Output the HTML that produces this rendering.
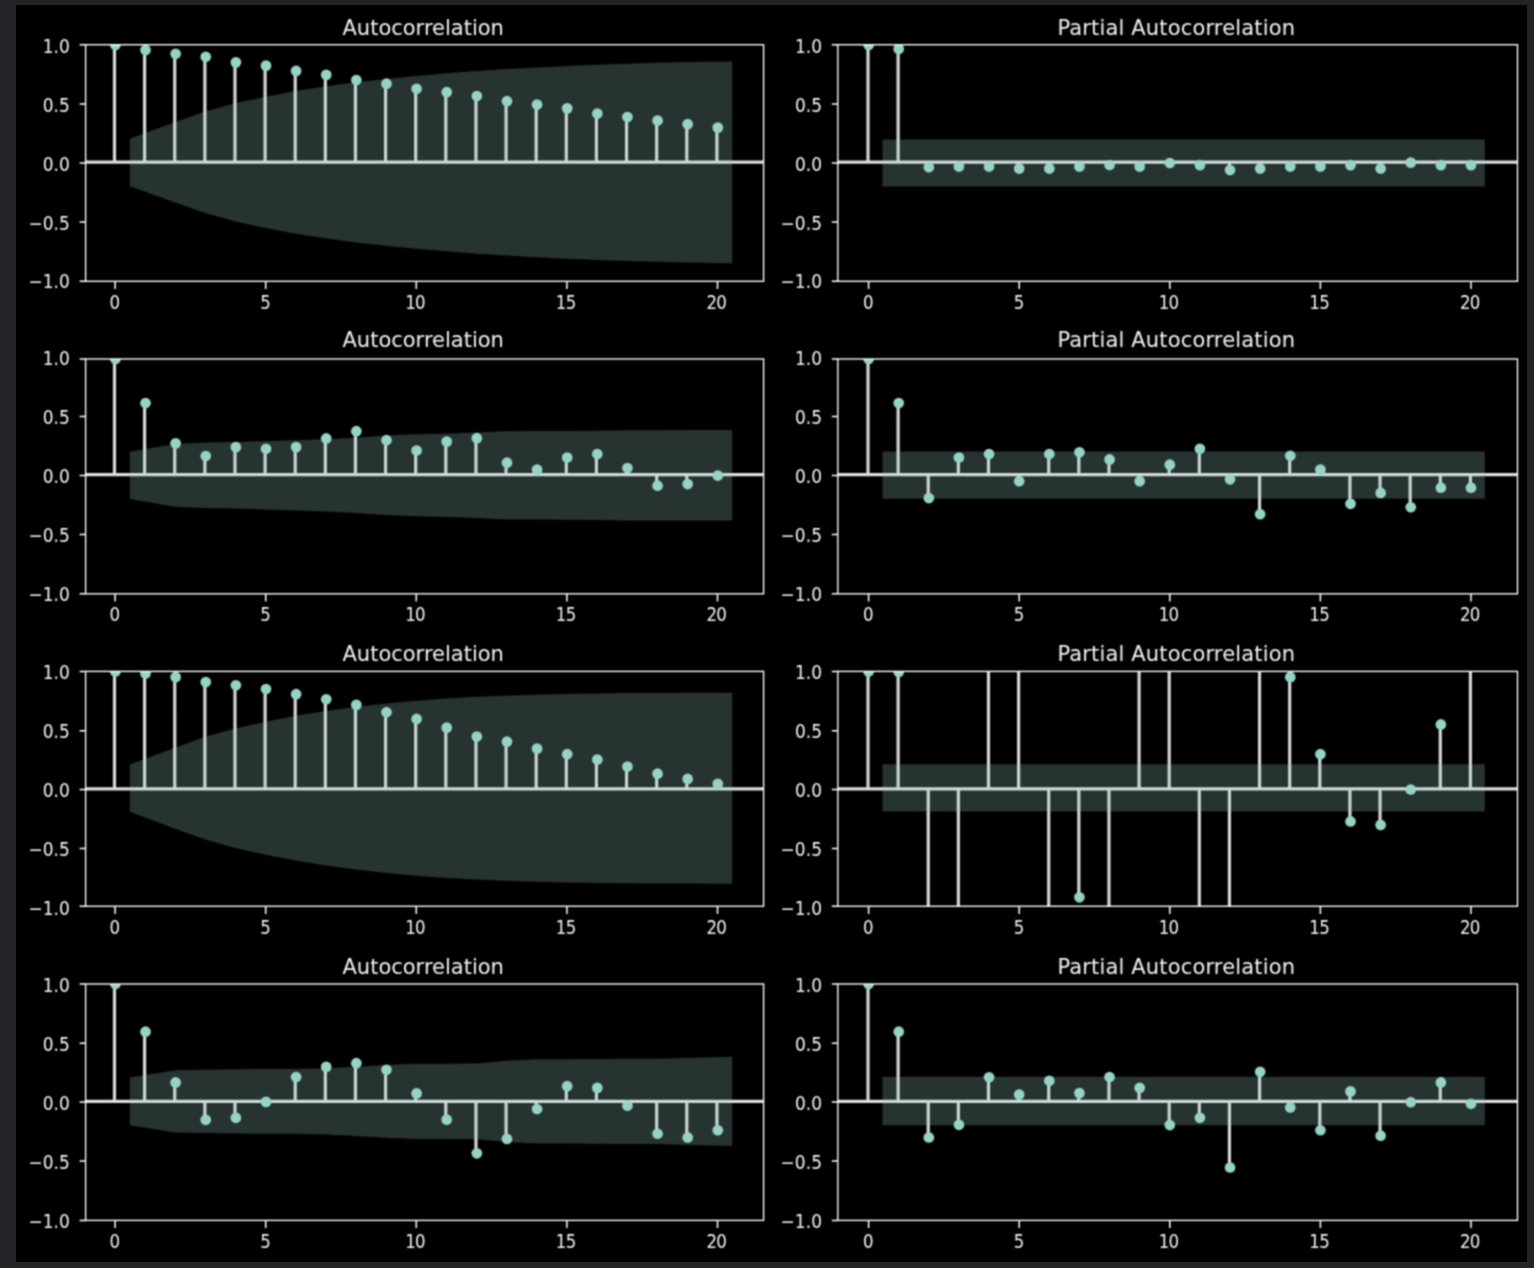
<!DOCTYPE html>
<html><head><meta charset="utf-8"><title>ACF / PACF</title>
<style>html,body{margin:0;padding:0;background:#222428;}body{width:1534px;height:1268px;overflow:hidden;}svg{display:block;}text{font-family:"DejaVu Sans","Liberation Sans",sans-serif;fill:#f2f2f2;}.t{font-size:17.5px;}.h{font-size:21px;}</style>
</head><body>
<svg width="1534" height="1268" viewBox="0 0 1534 1268">
<rect x="0" y="0" width="1534" height="1268" fill="#222428"/>
<rect x="16" y="5" width="1511" height="1257" fill="#000"/>
<defs><filter id="bl" x="0" y="0" width="1534" height="1268" filterUnits="userSpaceOnUse"><feConvolveMatrix order="3" kernelMatrix="1 2 1 2 4 2 1 2 1" divisor="16" edgeMode="duplicate" preserveAlpha="false"/></filter>
<clipPath id="c0"><rect x="85.6" y="44.7" width="678" height="236.6"/></clipPath>
<clipPath id="c1"><rect x="837.8" y="44.7" width="679.7" height="236.6"/></clipPath>
<clipPath id="c2"><rect x="85.6" y="359" width="678" height="234.8"/></clipPath>
<clipPath id="c3"><rect x="837.8" y="359" width="679.7" height="234.8"/></clipPath>
<clipPath id="c4"><rect x="85.6" y="671.4" width="678" height="234.85"/></clipPath>
<clipPath id="c5"><rect x="837.8" y="671.4" width="679.7" height="234.85"/></clipPath>
<clipPath id="c6"><rect x="85.6" y="984" width="678" height="236.4"/></clipPath>
<clipPath id="c7"><rect x="837.8" y="984" width="679.7" height="236.4"/></clipPath>
</defs>
<g filter="url(#bl)">
<g clip-path="url(#c0)">
<path d="M114.5 163V45M144.62 163V50.07M174.74 163V53.73M204.86 163V56.8M234.98 163V62.35M265.1 163V65.65M295.22 163V70.96M325.34 163V74.85M355.46 163V80.05M385.58 163V83.7M415.7 163V88.78M445.82 163V92.2M475.94 163V95.98M506.06 163V101.17M536.18 163V104.59M566.3 163V108.37M596.42 163V113.56M626.54 163V116.98M656.66 163V120.52M686.78 163V124.18M716.9 163V127.6" stroke="#d6d6d6" stroke-width="3.2" fill="none"/>
<line x1="85.6" x2="763.6" y1="162.2" y2="162.2" stroke="#dcdcdc" stroke-width="3.3"/>
<circle cx="115.4" cy="45" r="5.35" fill="#93d4c5"/>
<circle cx="145.52" cy="50.07" r="5.35" fill="#93d4c5"/>
<circle cx="175.64" cy="53.73" r="5.35" fill="#93d4c5"/>
<circle cx="205.76" cy="56.8" r="5.35" fill="#93d4c5"/>
<circle cx="235.88" cy="62.35" r="5.35" fill="#93d4c5"/>
<circle cx="266" cy="65.65" r="5.35" fill="#93d4c5"/>
<circle cx="296.12" cy="70.96" r="5.35" fill="#93d4c5"/>
<circle cx="326.24" cy="74.85" r="5.35" fill="#93d4c5"/>
<circle cx="356.36" cy="80.05" r="5.35" fill="#93d4c5"/>
<circle cx="386.48" cy="83.7" r="5.35" fill="#93d4c5"/>
<circle cx="416.6" cy="88.78" r="5.35" fill="#93d4c5"/>
<circle cx="446.72" cy="92.2" r="5.35" fill="#93d4c5"/>
<circle cx="476.84" cy="95.98" r="5.35" fill="#93d4c5"/>
<circle cx="506.96" cy="101.17" r="5.35" fill="#93d4c5"/>
<circle cx="537.08" cy="104.59" r="5.35" fill="#93d4c5"/>
<circle cx="567.2" cy="108.37" r="5.35" fill="#93d4c5"/>
<circle cx="597.32" cy="113.56" r="5.35" fill="#93d4c5"/>
<circle cx="627.44" cy="116.98" r="5.35" fill="#93d4c5"/>
<circle cx="657.56" cy="120.52" r="5.35" fill="#93d4c5"/>
<circle cx="687.68" cy="124.18" r="5.35" fill="#93d4c5"/>
<circle cx="717.8" cy="127.6" r="5.35" fill="#93d4c5"/>
<polygon points="129.86,138.56 175.04,122.31 205.16,111.62 235.28,103.27 265.4,96.67 295.52,91.04 325.64,86.37 355.76,82.32 385.88,78.9 416,75.89 446.12,73.33 476.24,71.07 506.36,69.09 536.48,67.44 566.6,65.99 596.72,64.74 626.84,63.73 656.96,62.86 687.08,62.12 732.26,61.51 732.26,263.19 687.08,262.58 656.96,261.84 626.84,260.97 596.72,259.96 566.6,258.71 536.48,257.26 506.36,255.61 476.24,253.63 446.12,251.37 416,248.81 385.88,245.8 355.76,242.38 325.64,238.33 295.52,233.66 265.4,228.03 235.28,221.43 205.16,213.08 175.04,202.39 129.86,186.14" fill="#9cd3c6" fill-opacity="0.245"/>
</g>
<rect x="85.6" y="44.7" width="678" height="236.6" fill="none" stroke="#ffffff" stroke-width="1.35"/>
<path d="M115.1 281.3v7.7M265.7 281.3v7.7M416.3 281.3v7.7M566.9 281.3v7.7M717.5 281.3v7.7M85.6 44.7h-6.0M85.6 104.1h-6.0M85.6 163h-6.0M85.6 221.9h-6.0M85.6 281.3h-6.0" stroke="#ffffff" stroke-width="1.5" fill="none"/>
<text class="t" transform="translate(114.9 308.8) scale(0.95 1.06)" text-anchor="middle">0</text>
<text class="t" transform="translate(265.5 308.8) scale(0.95 1.06)" text-anchor="middle">5</text>
<text class="t" transform="translate(415.1 308.8) scale(0.95 1.06)" text-anchor="middle" letter-spacing="-0.7">10</text>
<text class="t" transform="translate(565.7 308.8) scale(0.95 1.06)" text-anchor="middle" letter-spacing="-0.7">15</text>
<text class="t" transform="translate(716.3 308.8) scale(0.95 1.06)" text-anchor="middle" letter-spacing="-0.7">20</text>
<text class="t" transform="translate(69.8 52.8) scale(0.975 1.06)" text-anchor="end">1.0</text>
<text class="t" transform="translate(69.8 111.7) scale(0.975 1.06)" text-anchor="end">0.5</text>
<text class="t" transform="translate(69.8 170.6) scale(0.975 1.06)" text-anchor="end">0.0</text>
<text class="t" transform="translate(69.8 229.5) scale(0.975 1.06)" text-anchor="end">−0.5</text>
<text class="t" transform="translate(69.8 288.4) scale(0.975 1.06)" text-anchor="end">−1.0</text>
<text class="h" x="423.2" y="34.8" text-anchor="middle">Autocorrelation</text>
<g clip-path="url(#c1)">
<path d="M868 163V45M898.12 163V48.89M928.24 163V167.25M958.36 163V166.54M988.48 163V166.54M1018.6 163V168.55M1048.72 163V168.55M1078.84 163V166.54M1108.96 163V165.01M1139.08 163V166.54M1169.2 163V163M1199.32 163V165.12M1229.44 163V170.08M1259.56 163V168.55M1289.68 163V166.54M1319.8 163V166.54M1349.92 163V165.12M1380.04 163V168.55M1410.16 163V162.65M1440.28 163V165.12M1470.4 163V165.12" stroke="#d6d6d6" stroke-width="3.2" fill="none"/>
<line x1="837.8" x2="1517.5" y1="162.2" y2="162.2" stroke="#dcdcdc" stroke-width="3.3"/>
<circle cx="868.6" cy="45" r="5.35" fill="#93d4c5"/>
<circle cx="898.72" cy="48.89" r="5.35" fill="#93d4c5"/>
<circle cx="928.84" cy="167.25" r="5.35" fill="#93d4c5"/>
<circle cx="958.96" cy="166.54" r="5.35" fill="#93d4c5"/>
<circle cx="989.08" cy="166.54" r="5.35" fill="#93d4c5"/>
<circle cx="1019.2" cy="168.55" r="5.35" fill="#93d4c5"/>
<circle cx="1049.32" cy="168.55" r="5.35" fill="#93d4c5"/>
<circle cx="1079.44" cy="166.54" r="5.35" fill="#93d4c5"/>
<circle cx="1109.56" cy="165.01" r="5.35" fill="#93d4c5"/>
<circle cx="1139.68" cy="166.54" r="5.35" fill="#93d4c5"/>
<circle cx="1169.8" cy="163" r="5.35" fill="#93d4c5"/>
<circle cx="1199.92" cy="165.12" r="5.35" fill="#93d4c5"/>
<circle cx="1230.04" cy="170.08" r="5.35" fill="#93d4c5"/>
<circle cx="1260.16" cy="168.55" r="5.35" fill="#93d4c5"/>
<circle cx="1290.28" cy="166.54" r="5.35" fill="#93d4c5"/>
<circle cx="1320.4" cy="166.54" r="5.35" fill="#93d4c5"/>
<circle cx="1350.52" cy="165.12" r="5.35" fill="#93d4c5"/>
<circle cx="1380.64" cy="168.55" r="5.35" fill="#93d4c5"/>
<circle cx="1410.76" cy="162.65" r="5.35" fill="#93d4c5"/>
<circle cx="1440.88" cy="165.12" r="5.35" fill="#93d4c5"/>
<circle cx="1471" cy="165.12" r="5.35" fill="#93d4c5"/>
<polygon points="882.46,139.4 927.64,139.4 957.76,139.4 987.88,139.4 1018,139.4 1048.12,139.4 1078.24,139.4 1108.36,139.4 1138.48,139.4 1168.6,139.4 1198.72,139.4 1228.84,139.4 1258.96,139.4 1289.08,139.4 1319.2,139.4 1349.32,139.4 1379.44,139.4 1409.56,139.4 1439.68,139.4 1484.86,139.4 1484.86,186.6 1439.68,186.6 1409.56,186.6 1379.44,186.6 1349.32,186.6 1319.2,186.6 1289.08,186.6 1258.96,186.6 1228.84,186.6 1198.72,186.6 1168.6,186.6 1138.48,186.6 1108.36,186.6 1078.24,186.6 1048.12,186.6 1018,186.6 987.88,186.6 957.76,186.6 927.64,186.6 882.46,186.6" fill="#9cd3c6" fill-opacity="0.245"/>
</g>
<rect x="837.8" y="44.7" width="679.7" height="236.6" fill="none" stroke="#ffffff" stroke-width="1.35"/>
<path d="M868.6 281.3v7.7M1019.2 281.3v7.7M1169.8 281.3v7.7M1320.4 281.3v7.7M1471 281.3v7.7M837.8 44.7h-6.0M837.8 104.1h-6.0M837.8 163h-6.0M837.8 221.9h-6.0M837.8 281.3h-6.0" stroke="#ffffff" stroke-width="1.5" fill="none"/>
<text class="t" transform="translate(868.4 308.8) scale(0.95 1.06)" text-anchor="middle">0</text>
<text class="t" transform="translate(1019 308.8) scale(0.95 1.06)" text-anchor="middle">5</text>
<text class="t" transform="translate(1168.6 308.8) scale(0.95 1.06)" text-anchor="middle" letter-spacing="-0.7">10</text>
<text class="t" transform="translate(1319.2 308.8) scale(0.95 1.06)" text-anchor="middle" letter-spacing="-0.7">15</text>
<text class="t" transform="translate(1469.8 308.8) scale(0.95 1.06)" text-anchor="middle" letter-spacing="-0.7">20</text>
<text class="t" transform="translate(822 52.8) scale(0.975 1.06)" text-anchor="end">1.0</text>
<text class="t" transform="translate(822 111.7) scale(0.975 1.06)" text-anchor="end">0.5</text>
<text class="t" transform="translate(822 170.6) scale(0.975 1.06)" text-anchor="end">0.0</text>
<text class="t" transform="translate(822 229.5) scale(0.975 1.06)" text-anchor="end">−0.5</text>
<text class="t" transform="translate(822 288.4) scale(0.975 1.06)" text-anchor="end">−1.0</text>
<text class="h" x="1057.4" y="34.8" textLength="237.6" lengthAdjust="spacing">Partial Autocorrelation</text>
<g clip-path="url(#c2)">
<path d="M114.5 476.06V358.87M144.62 476.06V403.05M174.74 476.06V443.36M204.86 476.06V456.02M234.98 476.06V447.11M265.1 476.06V448.81M295.22 476.06V447.11M325.34 476.06V438.44M355.46 476.06V431.18M385.58 476.06V440.2M415.7 476.06V450.51M445.82 476.06V441.61M475.94 476.06V438.21M506.06 476.06V462.7M536.18 476.06V469.61M566.3 476.06V457.49M596.42 476.06V454.03M626.54 476.06V468.09M656.66 476.06V485.67M686.78 476.06V484.03M716.9 476.06V475.59" stroke="#d6d6d6" stroke-width="3.2" fill="none"/>
<line x1="85.6" x2="763.6" y1="474.55" y2="474.55" stroke="#dcdcdc" stroke-width="3.3"/>
<circle cx="115.4" cy="358.87" r="5.35" fill="#93d4c5"/>
<circle cx="145.52" cy="403.05" r="5.35" fill="#93d4c5"/>
<circle cx="175.64" cy="443.36" r="5.35" fill="#93d4c5"/>
<circle cx="205.76" cy="456.02" r="5.35" fill="#93d4c5"/>
<circle cx="235.88" cy="447.11" r="5.35" fill="#93d4c5"/>
<circle cx="266" cy="448.81" r="5.35" fill="#93d4c5"/>
<circle cx="296.12" cy="447.11" r="5.35" fill="#93d4c5"/>
<circle cx="326.24" cy="438.44" r="5.35" fill="#93d4c5"/>
<circle cx="356.36" cy="431.18" r="5.35" fill="#93d4c5"/>
<circle cx="386.48" cy="440.2" r="5.35" fill="#93d4c5"/>
<circle cx="416.6" cy="450.51" r="5.35" fill="#93d4c5"/>
<circle cx="446.72" cy="441.61" r="5.35" fill="#93d4c5"/>
<circle cx="476.84" cy="438.21" r="5.35" fill="#93d4c5"/>
<circle cx="506.96" cy="462.7" r="5.35" fill="#93d4c5"/>
<circle cx="537.08" cy="469.61" r="5.35" fill="#93d4c5"/>
<circle cx="567.2" cy="457.49" r="5.35" fill="#93d4c5"/>
<circle cx="597.32" cy="454.03" r="5.35" fill="#93d4c5"/>
<circle cx="627.44" cy="468.09" r="5.35" fill="#93d4c5"/>
<circle cx="657.56" cy="485.67" r="5.35" fill="#93d4c5"/>
<circle cx="687.68" cy="484.03" r="5.35" fill="#93d4c5"/>
<circle cx="717.8" cy="475.59" r="5.35" fill="#93d4c5"/>
<polygon points="129.86,451.75 175.04,443.91 205.16,442.56 235.28,442.07 265.4,441.07 295.52,440.2 325.64,439.25 355.76,437.7 385.88,435.59 416,434.3 446.12,433.67 476.24,432.53 506.36,431.2 536.48,431.03 566.6,430.99 596.72,430.68 626.84,430.24 656.96,430.19 687.08,430.1 732.26,430.05 732.26,520.59 687.08,520.54 656.96,520.45 626.84,520.4 596.72,519.96 566.6,519.65 536.48,519.61 506.36,519.44 476.24,518.11 446.12,516.97 416,516.34 385.88,515.05 355.76,512.94 325.64,511.39 295.52,510.44 265.4,509.57 235.28,508.57 205.16,508.08 175.04,506.73 129.86,498.89" fill="#9cd3c6" fill-opacity="0.245"/>
</g>
<rect x="85.6" y="359" width="678" height="234.8" fill="none" stroke="#ffffff" stroke-width="1.35"/>
<path d="M115.1 593.8v7.7M265.7 593.8v7.7M416.3 593.8v7.7M566.9 593.8v7.7M717.5 593.8v7.7M85.6 359h-6.0M85.6 416.6h-6.0M85.6 475.5h-6.0M85.6 534.4h-6.0M85.6 593.8h-6.0" stroke="#ffffff" stroke-width="1.5" fill="none"/>
<text class="t" transform="translate(114.9 621.3) scale(0.95 1.06)" text-anchor="middle">0</text>
<text class="t" transform="translate(265.5 621.3) scale(0.95 1.06)" text-anchor="middle">5</text>
<text class="t" transform="translate(415.1 621.3) scale(0.95 1.06)" text-anchor="middle" letter-spacing="-0.7">10</text>
<text class="t" transform="translate(565.7 621.3) scale(0.95 1.06)" text-anchor="middle" letter-spacing="-0.7">15</text>
<text class="t" transform="translate(716.3 621.3) scale(0.95 1.06)" text-anchor="middle" letter-spacing="-0.7">20</text>
<text class="t" transform="translate(69.8 365.3) scale(0.975 1.06)" text-anchor="end">1.0</text>
<text class="t" transform="translate(69.8 424.2) scale(0.975 1.06)" text-anchor="end">0.5</text>
<text class="t" transform="translate(69.8 483.1) scale(0.975 1.06)" text-anchor="end">0.0</text>
<text class="t" transform="translate(69.8 542) scale(0.975 1.06)" text-anchor="end">−0.5</text>
<text class="t" transform="translate(69.8 600.9) scale(0.975 1.06)" text-anchor="end">−1.0</text>
<text class="h" x="423.2" y="347.1" text-anchor="middle">Autocorrelation</text>
<g clip-path="url(#c3)">
<path d="M868 476.06V358.87M898.12 476.06V403.05M928.24 476.06V498.09M958.36 476.06V457.49M988.48 476.06V454.03M1018.6 476.06V481.22M1048.72 476.06V454.03M1078.84 476.06V452.27M1108.96 476.06V459.42M1139.08 476.06V481.22M1169.2 476.06V464.69M1199.32 476.06V448.81M1229.44 476.06V479.28M1259.56 476.06V514.21M1289.68 476.06V455.79M1319.8 476.06V469.61M1349.92 476.06V503.83M1380.04 476.06V492.94M1410.16 476.06V507.23M1440.28 476.06V487.66M1470.4 476.06V487.66" stroke="#d6d6d6" stroke-width="3.2" fill="none"/>
<line x1="837.8" x2="1517.5" y1="474.55" y2="474.55" stroke="#dcdcdc" stroke-width="3.3"/>
<circle cx="868.6" cy="358.87" r="5.35" fill="#93d4c5"/>
<circle cx="898.72" cy="403.05" r="5.35" fill="#93d4c5"/>
<circle cx="928.84" cy="498.09" r="5.35" fill="#93d4c5"/>
<circle cx="958.96" cy="457.49" r="5.35" fill="#93d4c5"/>
<circle cx="989.08" cy="454.03" r="5.35" fill="#93d4c5"/>
<circle cx="1019.2" cy="481.22" r="5.35" fill="#93d4c5"/>
<circle cx="1049.32" cy="454.03" r="5.35" fill="#93d4c5"/>
<circle cx="1079.44" cy="452.27" r="5.35" fill="#93d4c5"/>
<circle cx="1109.56" cy="459.42" r="5.35" fill="#93d4c5"/>
<circle cx="1139.68" cy="481.22" r="5.35" fill="#93d4c5"/>
<circle cx="1169.8" cy="464.69" r="5.35" fill="#93d4c5"/>
<circle cx="1199.92" cy="448.81" r="5.35" fill="#93d4c5"/>
<circle cx="1230.04" cy="479.28" r="5.35" fill="#93d4c5"/>
<circle cx="1260.16" cy="514.21" r="5.35" fill="#93d4c5"/>
<circle cx="1290.28" cy="455.79" r="5.35" fill="#93d4c5"/>
<circle cx="1320.4" cy="469.61" r="5.35" fill="#93d4c5"/>
<circle cx="1350.52" cy="503.83" r="5.35" fill="#93d4c5"/>
<circle cx="1380.64" cy="492.94" r="5.35" fill="#93d4c5"/>
<circle cx="1410.76" cy="507.23" r="5.35" fill="#93d4c5"/>
<circle cx="1440.88" cy="487.66" r="5.35" fill="#93d4c5"/>
<circle cx="1471" cy="487.66" r="5.35" fill="#93d4c5"/>
<polygon points="882.46,451.55 927.64,451.55 957.76,451.55 987.88,451.55 1018,451.55 1048.12,451.55 1078.24,451.55 1108.36,451.55 1138.48,451.55 1168.6,451.55 1198.72,451.55 1228.84,451.55 1258.96,451.55 1289.08,451.55 1319.2,451.55 1349.32,451.55 1379.44,451.55 1409.56,451.55 1439.68,451.55 1484.86,451.55 1484.86,498.77 1439.68,498.77 1409.56,498.77 1379.44,498.77 1349.32,498.77 1319.2,498.77 1289.08,498.77 1258.96,498.77 1228.84,498.77 1198.72,498.77 1168.6,498.77 1138.48,498.77 1108.36,498.77 1078.24,498.77 1048.12,498.77 1018,498.77 987.88,498.77 957.76,498.77 927.64,498.77 882.46,498.77" fill="#9cd3c6" fill-opacity="0.245"/>
</g>
<rect x="837.8" y="359" width="679.7" height="234.8" fill="none" stroke="#ffffff" stroke-width="1.35"/>
<path d="M868.6 593.8v7.7M1019.2 593.8v7.7M1169.8 593.8v7.7M1320.4 593.8v7.7M1471 593.8v7.7M837.8 359h-6.0M837.8 416.6h-6.0M837.8 475.5h-6.0M837.8 534.4h-6.0M837.8 593.8h-6.0" stroke="#ffffff" stroke-width="1.5" fill="none"/>
<text class="t" transform="translate(868.4 621.3) scale(0.95 1.06)" text-anchor="middle">0</text>
<text class="t" transform="translate(1019 621.3) scale(0.95 1.06)" text-anchor="middle">5</text>
<text class="t" transform="translate(1168.6 621.3) scale(0.95 1.06)" text-anchor="middle" letter-spacing="-0.7">10</text>
<text class="t" transform="translate(1319.2 621.3) scale(0.95 1.06)" text-anchor="middle" letter-spacing="-0.7">15</text>
<text class="t" transform="translate(1469.8 621.3) scale(0.95 1.06)" text-anchor="middle" letter-spacing="-0.7">20</text>
<text class="t" transform="translate(822 365.3) scale(0.975 1.06)" text-anchor="end">1.0</text>
<text class="t" transform="translate(822 424.2) scale(0.975 1.06)" text-anchor="end">0.5</text>
<text class="t" transform="translate(822 483.1) scale(0.975 1.06)" text-anchor="end">0.0</text>
<text class="t" transform="translate(822 542) scale(0.975 1.06)" text-anchor="end">−0.5</text>
<text class="t" transform="translate(822 600.9) scale(0.975 1.06)" text-anchor="end">−1.0</text>
<text class="h" x="1057.4" y="347.1" textLength="237.6" lengthAdjust="spacing">Partial Autocorrelation</text>
<g clip-path="url(#c4)">
<path d="M114.5 788.8V671.4M144.62 788.8V673.4M174.74 788.8V677.15M204.86 788.8V682.08M234.98 788.8V685.25M265.1 788.8V689.01M295.22 788.8V694.18M325.34 788.8V699.34M355.46 788.8V704.86M385.58 788.8V712.26M415.7 788.8V718.95M445.82 788.8V727.63M475.94 788.8V736.56M506.06 788.8V741.72M536.18 788.8V748.65M566.3 788.8V754.17M596.42 788.8V759.57M626.54 788.8V766.49M656.66 788.8V773.66M686.78 788.8V778.94M716.9 788.8V783.87" stroke="#d6d6d6" stroke-width="3.2" fill="none"/>
<line x1="85.6" x2="763.6" y1="788.86" y2="788.86" stroke="#dcdcdc" stroke-width="3.3"/>
<circle cx="115.4" cy="671.4" r="5.35" fill="#93d4c5"/>
<circle cx="145.52" cy="673.4" r="5.35" fill="#93d4c5"/>
<circle cx="175.64" cy="677.15" r="5.35" fill="#93d4c5"/>
<circle cx="205.76" cy="682.08" r="5.35" fill="#93d4c5"/>
<circle cx="235.88" cy="685.25" r="5.35" fill="#93d4c5"/>
<circle cx="266" cy="689.01" r="5.35" fill="#93d4c5"/>
<circle cx="296.12" cy="694.18" r="5.35" fill="#93d4c5"/>
<circle cx="326.24" cy="699.34" r="5.35" fill="#93d4c5"/>
<circle cx="356.36" cy="704.86" r="5.35" fill="#93d4c5"/>
<circle cx="386.48" cy="712.26" r="5.35" fill="#93d4c5"/>
<circle cx="416.6" cy="718.95" r="5.35" fill="#93d4c5"/>
<circle cx="446.72" cy="727.63" r="5.35" fill="#93d4c5"/>
<circle cx="476.84" cy="736.56" r="5.35" fill="#93d4c5"/>
<circle cx="506.96" cy="741.72" r="5.35" fill="#93d4c5"/>
<circle cx="537.08" cy="748.65" r="5.35" fill="#93d4c5"/>
<circle cx="567.2" cy="754.17" r="5.35" fill="#93d4c5"/>
<circle cx="597.32" cy="759.57" r="5.35" fill="#93d4c5"/>
<circle cx="627.44" cy="766.49" r="5.35" fill="#93d4c5"/>
<circle cx="657.56" cy="773.66" r="5.35" fill="#93d4c5"/>
<circle cx="687.68" cy="778.94" r="5.35" fill="#93d4c5"/>
<circle cx="717.8" cy="783.87" r="5.35" fill="#93d4c5"/>
<polygon points="129.86,764.59 175.04,747.77 205.16,736.79 235.28,728.5 265.4,721.64 295.52,715.84 325.64,711 355.76,706.91 385.88,703.48 416,700.73 446.12,698.5 476.24,696.83 506.36,695.63 536.48,694.67 566.6,693.97 596.72,693.46 626.84,693.1 656.96,692.88 687.08,692.79 732.26,692.75 732.26,883.65 687.08,883.61 656.96,883.52 626.84,883.3 596.72,882.94 566.6,882.43 536.48,881.73 506.36,880.77 476.24,879.57 446.12,877.9 416,875.67 385.88,872.92 355.76,869.49 325.64,865.4 295.52,860.56 265.4,854.76 235.28,847.9 205.16,839.61 175.04,828.63 129.86,811.81" fill="#9cd3c6" fill-opacity="0.245"/>
</g>
<rect x="85.6" y="671.4" width="678" height="234.85" fill="none" stroke="#ffffff" stroke-width="1.35"/>
<path d="M115.1 906.25v7.7M265.7 906.25v7.7M416.3 906.25v7.7M566.9 906.25v7.7M717.5 906.25v7.7M85.6 671.4h-6.0M85.6 730.7h-6.0M85.6 789.6h-6.0M85.6 848.5h-6.0M85.6 906.25h-6.0" stroke="#ffffff" stroke-width="1.5" fill="none"/>
<text class="t" transform="translate(114.9 933.75) scale(0.95 1.06)" text-anchor="middle">0</text>
<text class="t" transform="translate(265.5 933.75) scale(0.95 1.06)" text-anchor="middle">5</text>
<text class="t" transform="translate(415.1 933.75) scale(0.95 1.06)" text-anchor="middle" letter-spacing="-0.7">10</text>
<text class="t" transform="translate(565.7 933.75) scale(0.95 1.06)" text-anchor="middle" letter-spacing="-0.7">15</text>
<text class="t" transform="translate(716.3 933.75) scale(0.95 1.06)" text-anchor="middle" letter-spacing="-0.7">20</text>
<text class="t" transform="translate(69.8 679.4) scale(0.975 1.06)" text-anchor="end">1.0</text>
<text class="t" transform="translate(69.8 738.3) scale(0.975 1.06)" text-anchor="end">0.5</text>
<text class="t" transform="translate(69.8 797.2) scale(0.975 1.06)" text-anchor="end">0.0</text>
<text class="t" transform="translate(69.8 856.1) scale(0.975 1.06)" text-anchor="end">−0.5</text>
<text class="t" transform="translate(69.8 915) scale(0.975 1.06)" text-anchor="end">−1.0</text>
<text class="h" x="423.2" y="661" text-anchor="middle">Autocorrelation</text>
<g clip-path="url(#c5)">
<path d="M868 788.8V671.4M898.12 788.8V671.99M928.24 788.8V1375.8M958.36 788.8V1375.8M988.48 788.8V201.8M1018.6 788.8V201.8M1048.72 788.8V1375.8M1078.84 788.8V897.28M1108.96 788.8V1375.8M1139.08 788.8V201.8M1169.2 788.8V201.8M1199.32 788.8V1375.8M1229.44 788.8V1375.8M1259.56 788.8V201.8M1289.68 788.8V677.15M1319.8 788.8V754.17M1349.92 788.8V821.44M1380.04 788.8V824.96M1410.16 788.8V789.5M1440.28 788.8V724.41M1470.4 788.8V201.8" stroke="#d6d6d6" stroke-width="3.2" fill="none"/>
<line x1="837.8" x2="1517.5" y1="788.86" y2="788.86" stroke="#dcdcdc" stroke-width="3.3"/>
<circle cx="868.6" cy="671.4" r="5.35" fill="#93d4c5"/>
<circle cx="898.72" cy="671.99" r="5.35" fill="#93d4c5"/>
<circle cx="1079.44" cy="897.28" r="5.35" fill="#93d4c5"/>
<circle cx="1290.28" cy="677.15" r="5.35" fill="#93d4c5"/>
<circle cx="1320.4" cy="754.17" r="5.35" fill="#93d4c5"/>
<circle cx="1350.52" cy="821.44" r="5.35" fill="#93d4c5"/>
<circle cx="1380.64" cy="824.96" r="5.35" fill="#93d4c5"/>
<circle cx="1410.76" cy="789.5" r="5.35" fill="#93d4c5"/>
<circle cx="1440.88" cy="724.41" r="5.35" fill="#93d4c5"/>
<polygon points="882.46,764.36 927.64,764.36 957.76,764.36 987.88,764.36 1018,764.36 1048.12,764.36 1078.24,764.36 1108.36,764.36 1138.48,764.36 1168.6,764.36 1198.72,764.36 1228.84,764.36 1258.96,764.36 1289.08,764.36 1319.2,764.36 1349.32,764.36 1379.44,764.36 1409.56,764.36 1439.68,764.36 1484.86,764.36 1484.86,811.44 1439.68,811.44 1409.56,811.44 1379.44,811.44 1349.32,811.44 1319.2,811.44 1289.08,811.44 1258.96,811.44 1228.84,811.44 1198.72,811.44 1168.6,811.44 1138.48,811.44 1108.36,811.44 1078.24,811.44 1048.12,811.44 1018,811.44 987.88,811.44 957.76,811.44 927.64,811.44 882.46,811.44" fill="#9cd3c6" fill-opacity="0.245"/>
</g>
<rect x="837.8" y="671.4" width="679.7" height="234.85" fill="none" stroke="#ffffff" stroke-width="1.35"/>
<path d="M868.6 906.25v7.7M1019.2 906.25v7.7M1169.8 906.25v7.7M1320.4 906.25v7.7M1471 906.25v7.7M837.8 671.4h-6.0M837.8 730.7h-6.0M837.8 789.6h-6.0M837.8 848.5h-6.0M837.8 906.25h-6.0" stroke="#ffffff" stroke-width="1.5" fill="none"/>
<text class="t" transform="translate(868.4 933.75) scale(0.95 1.06)" text-anchor="middle">0</text>
<text class="t" transform="translate(1019 933.75) scale(0.95 1.06)" text-anchor="middle">5</text>
<text class="t" transform="translate(1168.6 933.75) scale(0.95 1.06)" text-anchor="middle" letter-spacing="-0.7">10</text>
<text class="t" transform="translate(1319.2 933.75) scale(0.95 1.06)" text-anchor="middle" letter-spacing="-0.7">15</text>
<text class="t" transform="translate(1469.8 933.75) scale(0.95 1.06)" text-anchor="middle" letter-spacing="-0.7">20</text>
<text class="t" transform="translate(822 679.4) scale(0.975 1.06)" text-anchor="end">1.0</text>
<text class="t" transform="translate(822 738.3) scale(0.975 1.06)" text-anchor="end">0.5</text>
<text class="t" transform="translate(822 797.2) scale(0.975 1.06)" text-anchor="end">0.0</text>
<text class="t" transform="translate(822 856.1) scale(0.975 1.06)" text-anchor="end">−0.5</text>
<text class="t" transform="translate(822 915) scale(0.975 1.06)" text-anchor="end">−1.0</text>
<text class="h" x="1057.4" y="661" textLength="237.6" lengthAdjust="spacing">Partial Autocorrelation</text>
<g clip-path="url(#c6)">
<path d="M114.5 1101.9V983.87M144.62 1101.9V1031.67M174.74 1101.9V1082.43M204.86 1101.9V1119.84M234.98 1101.9V1117.83M265.1 1101.9V1101.9M295.22 1101.9V1077M325.34 1101.9V1066.85M355.46 1101.9V1063.19M385.58 1101.9V1069.8M415.7 1101.9V1093.4M445.82 1101.9V1119.6M475.94 1101.9V1153.3M506.06 1101.9V1138.96M536.18 1101.9V1108.98M566.3 1101.9V1086.2M596.42 1101.9V1087.9M626.54 1101.9V1105.74M656.66 1101.9V1133.77M686.78 1101.9V1137.43M716.9 1101.9V1130.23" stroke="#d6d6d6" stroke-width="3.2" fill="none"/>
<line x1="85.6" x2="763.6" y1="1101.34" y2="1101.34" stroke="#dcdcdc" stroke-width="3.3"/>
<circle cx="115.4" cy="983.87" r="5.35" fill="#93d4c5"/>
<circle cx="145.52" cy="1031.67" r="5.35" fill="#93d4c5"/>
<circle cx="175.64" cy="1082.43" r="5.35" fill="#93d4c5"/>
<circle cx="205.76" cy="1119.84" r="5.35" fill="#93d4c5"/>
<circle cx="235.88" cy="1117.83" r="5.35" fill="#93d4c5"/>
<circle cx="266" cy="1101.9" r="5.35" fill="#93d4c5"/>
<circle cx="296.12" cy="1077" r="5.35" fill="#93d4c5"/>
<circle cx="326.24" cy="1066.85" r="5.35" fill="#93d4c5"/>
<circle cx="356.36" cy="1063.19" r="5.35" fill="#93d4c5"/>
<circle cx="386.48" cy="1069.8" r="5.35" fill="#93d4c5"/>
<circle cx="416.6" cy="1093.4" r="5.35" fill="#93d4c5"/>
<circle cx="446.72" cy="1119.6" r="5.35" fill="#93d4c5"/>
<circle cx="476.84" cy="1153.3" r="5.35" fill="#93d4c5"/>
<circle cx="506.96" cy="1138.96" r="5.35" fill="#93d4c5"/>
<circle cx="537.08" cy="1108.98" r="5.35" fill="#93d4c5"/>
<circle cx="567.2" cy="1086.2" r="5.35" fill="#93d4c5"/>
<circle cx="597.32" cy="1087.9" r="5.35" fill="#93d4c5"/>
<circle cx="627.44" cy="1105.74" r="5.35" fill="#93d4c5"/>
<circle cx="657.56" cy="1133.77" r="5.35" fill="#93d4c5"/>
<circle cx="687.68" cy="1137.43" r="5.35" fill="#93d4c5"/>
<circle cx="717.8" cy="1130.23" r="5.35" fill="#93d4c5"/>
<polygon points="129.86,1077.54 175.04,1070.22 205.16,1069.72 235.28,1069.31 265.4,1068.99 295.52,1068.99 325.64,1068.22 355.76,1066.74 385.88,1065.01 416,1063.87 446.12,1063.79 476.24,1063.45 506.36,1060.71 536.48,1059.35 566.6,1059.3 596.72,1059.06 626.84,1058.87 656.96,1058.86 687.08,1057.9 732.26,1056.73 732.26,1146.07 687.08,1144.9 656.96,1143.94 626.84,1143.93 596.72,1143.74 566.6,1143.5 536.48,1143.45 506.36,1142.09 476.24,1139.35 446.12,1139.01 416,1138.93 385.88,1137.79 355.76,1136.06 325.64,1134.58 295.52,1133.81 265.4,1133.81 235.28,1133.49 205.16,1133.08 175.04,1132.58 129.86,1125.26" fill="#9cd3c6" fill-opacity="0.245"/>
</g>
<rect x="85.6" y="984" width="678" height="236.4" fill="none" stroke="#ffffff" stroke-width="1.35"/>
<path d="M115.1 1220.4v7.7M265.7 1220.4v7.7M416.3 1220.4v7.7M566.9 1220.4v7.7M717.5 1220.4v7.7M85.6 984h-6.0M85.6 1043.2h-6.0M85.6 1102.1h-6.0M85.6 1161h-6.0M85.6 1220.4h-6.0" stroke="#ffffff" stroke-width="1.5" fill="none"/>
<text class="t" transform="translate(114.9 1247.9) scale(0.95 1.06)" text-anchor="middle">0</text>
<text class="t" transform="translate(265.5 1247.9) scale(0.95 1.06)" text-anchor="middle">5</text>
<text class="t" transform="translate(415.1 1247.9) scale(0.95 1.06)" text-anchor="middle" letter-spacing="-0.7">10</text>
<text class="t" transform="translate(565.7 1247.9) scale(0.95 1.06)" text-anchor="middle" letter-spacing="-0.7">15</text>
<text class="t" transform="translate(716.3 1247.9) scale(0.95 1.06)" text-anchor="middle" letter-spacing="-0.7">20</text>
<text class="t" transform="translate(69.8 991.9) scale(0.975 1.06)" text-anchor="end">1.0</text>
<text class="t" transform="translate(69.8 1050.8) scale(0.975 1.06)" text-anchor="end">0.5</text>
<text class="t" transform="translate(69.8 1109.7) scale(0.975 1.06)" text-anchor="end">0.0</text>
<text class="t" transform="translate(69.8 1168.6) scale(0.975 1.06)" text-anchor="end">−0.5</text>
<text class="t" transform="translate(69.8 1227.5) scale(0.975 1.06)" text-anchor="end">−1.0</text>
<text class="h" x="423.2" y="974" text-anchor="middle">Autocorrelation</text>
<g clip-path="url(#c7)">
<path d="M868 1101.9V983.87M898.12 1101.9V1031.67M928.24 1101.9V1137.43M958.36 1101.9V1124.8M988.48 1101.9V1077.23M1018.6 1101.9V1094.58M1048.72 1101.9V1080.77M1078.84 1101.9V1093.11M1108.96 1101.9V1077M1139.08 1101.9V1087.9M1169.2 1101.9V1125.03M1199.32 1101.9V1117.83M1229.44 1101.9V1167.41M1259.56 1101.9V1071.8M1289.68 1101.9V1107.45M1319.8 1101.9V1130.23M1349.92 1101.9V1091.4M1380.04 1101.9V1135.72M1410.16 1101.9V1102.25M1440.28 1101.9V1082.43M1470.4 1101.9V1103.79" stroke="#d6d6d6" stroke-width="3.2" fill="none"/>
<line x1="837.8" x2="1517.5" y1="1101.34" y2="1101.34" stroke="#dcdcdc" stroke-width="3.3"/>
<circle cx="868.6" cy="983.87" r="5.35" fill="#93d4c5"/>
<circle cx="898.72" cy="1031.67" r="5.35" fill="#93d4c5"/>
<circle cx="928.84" cy="1137.43" r="5.35" fill="#93d4c5"/>
<circle cx="958.96" cy="1124.8" r="5.35" fill="#93d4c5"/>
<circle cx="989.08" cy="1077.23" r="5.35" fill="#93d4c5"/>
<circle cx="1019.2" cy="1094.58" r="5.35" fill="#93d4c5"/>
<circle cx="1049.32" cy="1080.77" r="5.35" fill="#93d4c5"/>
<circle cx="1079.44" cy="1093.11" r="5.35" fill="#93d4c5"/>
<circle cx="1109.56" cy="1077" r="5.35" fill="#93d4c5"/>
<circle cx="1139.68" cy="1087.9" r="5.35" fill="#93d4c5"/>
<circle cx="1169.8" cy="1125.03" r="5.35" fill="#93d4c5"/>
<circle cx="1199.92" cy="1117.83" r="5.35" fill="#93d4c5"/>
<circle cx="1230.04" cy="1167.41" r="5.35" fill="#93d4c5"/>
<circle cx="1260.16" cy="1071.8" r="5.35" fill="#93d4c5"/>
<circle cx="1290.28" cy="1107.45" r="5.35" fill="#93d4c5"/>
<circle cx="1320.4" cy="1130.23" r="5.35" fill="#93d4c5"/>
<circle cx="1350.52" cy="1091.4" r="5.35" fill="#93d4c5"/>
<circle cx="1380.64" cy="1135.72" r="5.35" fill="#93d4c5"/>
<circle cx="1410.76" cy="1102.25" r="5.35" fill="#93d4c5"/>
<circle cx="1440.88" cy="1082.43" r="5.35" fill="#93d4c5"/>
<circle cx="1471" cy="1103.79" r="5.35" fill="#93d4c5"/>
<polygon points="882.46,1076.85 927.64,1076.85 957.76,1076.85 987.88,1076.85 1018,1076.85 1048.12,1076.85 1078.24,1076.85 1108.36,1076.85 1138.48,1076.85 1168.6,1076.85 1198.72,1076.85 1228.84,1076.85 1258.96,1076.85 1289.08,1076.85 1319.2,1076.85 1349.32,1076.85 1379.44,1076.85 1409.56,1076.85 1439.68,1076.85 1484.86,1076.85 1484.86,1125.25 1439.68,1125.25 1409.56,1125.25 1379.44,1125.25 1349.32,1125.25 1319.2,1125.25 1289.08,1125.25 1258.96,1125.25 1228.84,1125.25 1198.72,1125.25 1168.6,1125.25 1138.48,1125.25 1108.36,1125.25 1078.24,1125.25 1048.12,1125.25 1018,1125.25 987.88,1125.25 957.76,1125.25 927.64,1125.25 882.46,1125.25" fill="#9cd3c6" fill-opacity="0.245"/>
</g>
<rect x="837.8" y="984" width="679.7" height="236.4" fill="none" stroke="#ffffff" stroke-width="1.35"/>
<path d="M868.6 1220.4v7.7M1019.2 1220.4v7.7M1169.8 1220.4v7.7M1320.4 1220.4v7.7M1471 1220.4v7.7M837.8 984h-6.0M837.8 1043.2h-6.0M837.8 1102.1h-6.0M837.8 1161h-6.0M837.8 1220.4h-6.0" stroke="#ffffff" stroke-width="1.5" fill="none"/>
<text class="t" transform="translate(868.4 1247.9) scale(0.95 1.06)" text-anchor="middle">0</text>
<text class="t" transform="translate(1019 1247.9) scale(0.95 1.06)" text-anchor="middle">5</text>
<text class="t" transform="translate(1168.6 1247.9) scale(0.95 1.06)" text-anchor="middle" letter-spacing="-0.7">10</text>
<text class="t" transform="translate(1319.2 1247.9) scale(0.95 1.06)" text-anchor="middle" letter-spacing="-0.7">15</text>
<text class="t" transform="translate(1469.8 1247.9) scale(0.95 1.06)" text-anchor="middle" letter-spacing="-0.7">20</text>
<text class="t" transform="translate(822 991.9) scale(0.975 1.06)" text-anchor="end">1.0</text>
<text class="t" transform="translate(822 1050.8) scale(0.975 1.06)" text-anchor="end">0.5</text>
<text class="t" transform="translate(822 1109.7) scale(0.975 1.06)" text-anchor="end">0.0</text>
<text class="t" transform="translate(822 1168.6) scale(0.975 1.06)" text-anchor="end">−0.5</text>
<text class="t" transform="translate(822 1227.5) scale(0.975 1.06)" text-anchor="end">−1.0</text>
<text class="h" x="1057.4" y="974" textLength="237.6" lengthAdjust="spacing">Partial Autocorrelation</text>
</g>
</svg></body></html>
